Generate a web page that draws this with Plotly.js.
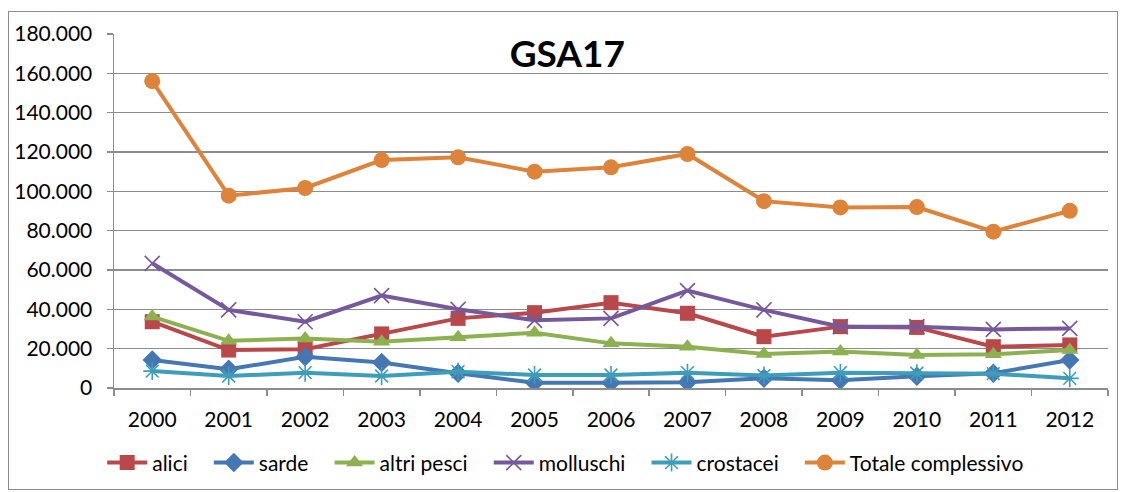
<!DOCTYPE html>
<html>
<head>
<meta charset="utf-8">
<script src="https://cdn.plot.ly/plotly-3.0.1.min.js"></script>
<style>
  html, body { margin: 0; padding: 0; background: #fff; }
  #chart { width: 1123px; height: 492px; position: absolute; left: 0; top: 0; }
  #frame { position: absolute; left: 8px; top: 11px; width: 1108px; height: 477px;
           border: 1.5px solid #8c8c8c; pointer-events: none; }
</style>
</head>
<body>
<div id="chart"></div>
<div id="frame"></div>
<script>
const years = ["2000","2001","2002","2003","2004","2005","2006","2007","2008","2009","2010","2011","2012"];
const alici = [33700, 19300, 19700, 27500, 35400, 38300, 43400, 38000, 26100, 31200, 30800, 21000, 21900];
const sarde = [14200, 9500, 15900, 13000, 7500, 2700, 2700, 2900, 5000, 4000, 6000, 7500, 14200];
const altriPesci = [36300, 24000, 25200, 23500, 25800, 28100, 22700, 21000, 17300, 18500, 16800, 17100, 19300];
const molluschi = [63400, 39700, 33700, 47000, 40000, 34400, 35400, 49500, 39700, 31200, 31200, 29800, 30300];
const crostacei = [8600, 6100, 7800, 6100, 8300, 6600, 6600, 7800, 6300, 7800, 7500, 7300, 4900];
const totale = [156000, 97800, 101700, 115900, 117300, 110000, 112200, 119000, 95000, 91800, 92000, 79500, 90100];
const yTicks = [0, 20000, 40000, 60000, 80000, 100000, 120000, 140000, 160000, 180000];
const chartTitle = "GSA17";
const seriesNames = ['alici', 'sarde', 'altri pesci', 'molluschi', 'crostacei', 'Totale complessivo'];

const pad = '\u00a0\u00a0\u00a0';

function tr(name, y, color, symbol, size, open) {
  const m = { symbol: symbol, size: size, color: color };
  if (open) { m.line = { color: color, width: 1.6 }; }
  else { m.line = { width: 0 }; }
  return { type: 'scatter', mode: 'lines+markers', name: name + pad, x: years, y: y,
           line: { color: color, width: 4 }, marker: m };
}

const data = [
  tr(seriesNames[0], alici, '#B8484A', 'square', 15, false),
  tr(seriesNames[1], sarde, '#4577B3', 'diamond', 15, false),
  tr(seriesNames[2], altriPesci, '#8DB050', 'triangle-up', 15, false),
  tr(seriesNames[3], molluschi, '#76599B', 'x-thin-open', 15, true),
  tr(seriesNames[4], crostacei, '#3E9DB8', 'asterisk-open', 15, true),
  tr(seriesNames[5], totale, '#DD843A', 'circle', 16, false)
];

const fontFam = 'Lato, "Open Sans", "Noto Sans", sans-serif';

const layout = {
  width: 1123, height: 492,
  margin: { l: 114, r: 15, t: 34, b: 104 },
  paper_bgcolor: '#ffffff', plot_bgcolor: '#ffffff',
  separators: ',.',
  font: { family: fontFam, size: 21, color: '#000' },
  title: { text: '<b>' + chartTitle + '</b>', x: 0.456, xref: 'paper', xanchor: 'center',
           y: 0.89, yref: 'container', yanchor: 'middle',
           font: { family: fontFam, size: 37, color: '#000' } },
  showlegend: true,
  legend: { orientation: 'h', x: 0.091, xref: 'container', xanchor: 'left',
            y: 0.059, yref: 'container', yanchor: 'middle',
            font: { family: fontFam, size: 21, color: '#000' }, itemwidth: 40,
            traceorder: 'normal' },
  xaxis: { type: 'category', tickvals: years, ticktext: years, range: [-0.5, 12.5],
           showline: true, linecolor: '#8c8c8c', linewidth: 1.5, automargin: false,
           ticks: 'outside', tickson: 'boundaries', ticklen: 6, tickcolor: '#8c8c8c', tickwidth: 1.5,
           ticklabelstandoff: 12,
           showgrid: false, zeroline: false, fixedrange: true,
           tickfont: { family: fontFam, size: 21, color: '#000' } },
  yaxis: { range: [0, 180000], tickvals: yTicks, tickformat: ',d', automargin: false,
           showline: true, linecolor: '#8c8c8c', linewidth: 1.5,
           ticks: 'outside', ticklen: 6, tickcolor: '#8c8c8c', tickwidth: 1.5,
           ticklabelstandoff: 10,
           showgrid: true, gridcolor: '#8c8c8c', gridwidth: 1.5,
           zeroline: false, fixedrange: true,
           tickfont: { family: fontFam, size: 21, color: '#000' } }
};

Plotly.newPlot('chart', data, layout, { displayModeBar: false, staticPlot: true });
</script>
</body>
</html>
